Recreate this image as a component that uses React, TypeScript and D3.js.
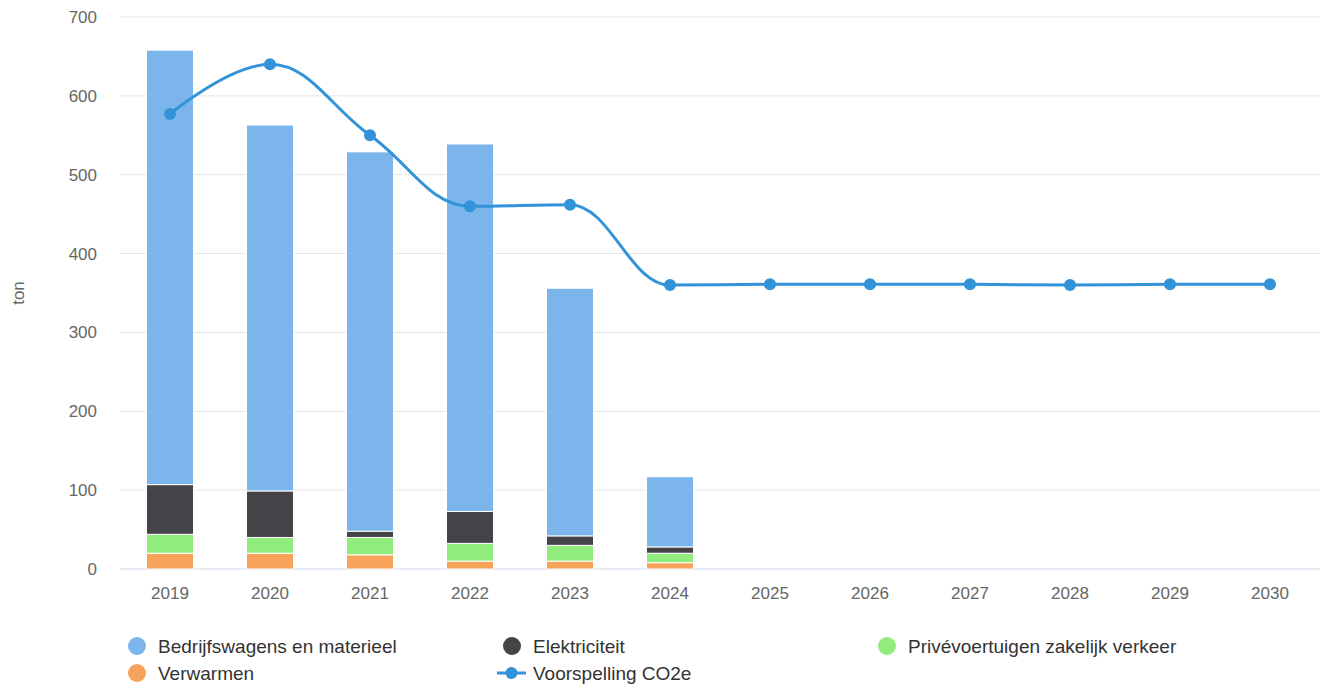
import React from "react";
import * as d3 from "d3";

const years = ["2019", "2020", "2021", "2022", "2023", "2024", "2025", "2026", "2027", "2028", "2029", "2030"];
const verwarmen = [20, 20, 18, 10, 10, 8];
const prive = [24, 20, 22, 22.5, 20, 12];
const elektriciteit = [63, 59, 8, 40.5, 12, 8];
const bedrijfswagens = [551, 464, 481, 466, 314, 89];
const voorspelling = [577, 640, 550, 460, 462, 360, 361, 361, 361, 360, 361, 361];
const yTicks = [0, 100, 200, 300, 400, 500, 600, 700];

const seriesNames = ["Verwarmen", "Privévoertuigen zakelijk verkeer", "Elektriciteit", "Bedrijfswagens en materieel"];
const seriesColors = ["#f7a35c", "#90ed7d", "#434348", "#7cb5ec"];
const lineColor = "#3393d8";

const W = 1320, H = 687;
const left = 120, right = 1320, top = 17, bottom = 569;

function splinePath(pts: [number, number][]) {
  const smoothing = 1.5, denom = smoothing + 1;
  const rc: ({ x: number; y: number } | null)[] = pts.map(() => null);
  let d = `M${pts[0][0]},${pts[0][1]}`;
  for (let i = 1; i < pts.length; i++) {
    const [px, py] = pts[i];
    const last = pts[i - 1];
    const next = pts[i + 1];
    let lcx = px, lcy = py;
    if (next) {
      const [lx, ly] = last;
      const [nx, ny] = next;
      lcx = (smoothing * px + lx) / denom;
      lcy = (smoothing * py + ly) / denom;
      let rcx = (smoothing * px + nx) / denom;
      let rcy = (smoothing * py + ny) / denom;
      if (rcx !== lcx) {
        const corr = ((rcy - lcy) * (rcx - px)) / (rcx - lcx) + py - rcy;
        lcy += corr;
        rcy += corr;
      }
      if (lcy > ly && lcy > py) { lcy = Math.max(ly, py); rcy = 2 * py - lcy; }
      else if (lcy < ly && lcy < py) { lcy = Math.min(ly, py); rcy = 2 * py - lcy; }
      if (rcy > ny && rcy > py) { rcy = Math.max(ny, py); lcy = 2 * py - rcy; }
      else if (rcy < ny && rcy < py) { rcy = Math.min(ny, py); lcy = 2 * py - rcy; }
      rc[i] = { x: rcx, y: rcy };
    }
    const lr = rc[i - 1];
    d += `C${lr ? lr.x : last[0]},${lr ? lr.y : last[1]},${lcx},${lcy},${px},${py}`;
  }
  return d;
}

export default function App() {
  const x = d3.scaleBand<string>().domain(years).range([left, right]);
  const y = d3.scaleLinear().domain([0, 700]).range([bottom, top]);
  const barW = 47;
  const stackData = [verwarmen, prive, elektriciteit, bedrijfswagens];
  const bars: JSX.Element[] = [];
  for (let i = 0; i < verwarmen.length; i++) {
    let acc = 0;
    stackData.forEach((s, k) => {
      const v0 = acc, v1 = acc + s[i];
      acc = v1;
      const cx = (x(years[i]) as number) + x.bandwidth() / 2;
      bars.push(
        <rect key={`${i}-${k}`} x={cx - barW / 2} y={y(v1)} width={barW} height={y(v0) - y(v1)}
          fill={seriesColors[k]} stroke="#ffffff" strokeWidth={1} />
      );
    });
  }
  const pts: [number, number][] = voorspelling.map((v, i) => [(x(years[i]) as number) + x.bandwidth() / 2, y(v)]);
  const font = "'Liberation Sans', Arial, Helvetica, sans-serif";
  const legendItems = [
    { name: "Bedrijfswagens en materieel", color: "#7cb5ec", x: 137, y: 646 },
    { name: "Elektriciteit", color: "#434348", x: 512, y: 646 },
    { name: "Privévoertuigen zakelijk verkeer", color: "#90ed7d", x: 887, y: 646 },
    { name: "Verwarmen", color: "#f7a35c", x: 137, y: 673 },
  ];
  return (
    <svg width={W} height={H} style={{ position: "absolute", left: 0, top: 0, fontFamily: font }}>
      <rect width={W} height={H} fill="#ffffff" />
      {yTicks.map((t) => (
        <g key={t}>
          <line x1={left} x2={right} y1={y(t)} y2={y(t)} stroke={t === 0 ? "#ccd6eb" : "#e6e6e6"} strokeWidth={1} />
          <text x={97} y={y(t)} dy="0.35em" textAnchor="end" fontSize={17} fill="#666666">{t}</text>
        </g>
      ))}
      <text transform={`translate(24,${(top + bottom) / 2}) rotate(-90)`} textAnchor="middle" fontSize={17} fill="#666666">ton</text>
      {years.map((yr) => (
        <text key={yr} x={(x(yr) as number) + x.bandwidth() / 2} y={599} textAnchor="middle" fontSize={17} fill="#666666">{yr}</text>
      ))}
      {bars}
      <path d={splinePath(pts)} fill="none" stroke={lineColor} strokeWidth={3} />
      {pts.map((p, i) => (
        <circle key={i} cx={p[0]} cy={p[1]} r={6} fill={lineColor} />
      ))}
      {legendItems.map((it) => (
        <g key={it.name}>
          <circle cx={it.x} cy={it.y} r={9} fill={it.color} />
          <text x={it.x + 21} y={it.y} dy="0.35em" fontSize={19} fill="#333333">{it.name}</text>
        </g>
      ))}
      <g>
        <line x1={497} x2={526} y1={673} y2={673} stroke={lineColor} strokeWidth={3} />
        <circle cx={511.5} cy={673} r={6} fill={lineColor} />
        <text x={533} y={673} dy="0.35em" fontSize={19} fill="#333333">Voorspelling CO2e</text>
      </g>
    </svg>
  );
}
